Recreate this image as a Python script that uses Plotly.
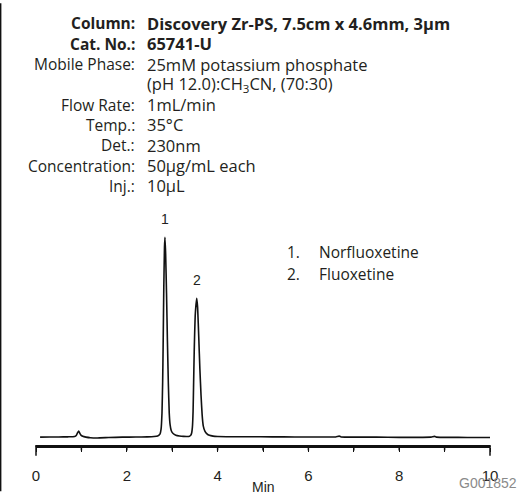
import plotly.graph_objects as go

# ---- data ----
time_min = [0.09, 0.3, 0.5, 0.7, 0.85, 0.89, 0.92, 0.94, 0.96, 0.99, 1.03, 1.1, 1.2, 1.35, 1.6,
            1.9, 2.2, 2.45, 2.6, 2.68, 2.73, 2.755, 2.775, 2.79, 2.80, 2.815, 2.83, 2.84, 2.855,
            2.875, 2.895, 2.915, 2.935, 2.955, 2.98, 3.02, 3.08, 3.16, 3.25, 3.33, 3.38, 3.41,
            3.43, 3.445, 3.46, 3.47, 3.485, 3.51, 3.54, 3.56, 3.585, 3.61, 3.635, 3.66, 3.685,
            3.72, 3.76, 3.82, 3.9, 4.0, 4.3, 4.7, 5.2, 5.7, 6.2, 6.6, 6.68, 6.72, 6.8, 7.1, 7.5,
            8.0, 8.4, 8.7, 8.78, 8.82, 8.9, 9.3, 9.7, 10.0]
signal = [0, 0.1, 0.1, 0.15, 0.3, 1.0, 2.4, 3.0, 2.2, 1.0, 0.4, 0, -0.3, -0.4, -0.2,
          0, 0.05, 0.15, 0.3, 0.6, 1.5, 4, 12, 28, 45, 75, 95, 100, 92,
          72, 48, 27, 12, 6, 3.2, 1.8, 1.0, 0.6, 0.4, 0.35, 0.5, 1.0,
          2.2, 5, 13, 25, 43, 62, 69.5, 65, 50, 34, 21, 11, 5.5,
          3, 1.8, 0.9, 0.5, 0.3, 0.2, 0.2, 0.15, 0.1, 0.1, 0.1, 0.5, 0.1, 0, 0, 0,
          -0.1, -0.1, 0, 0.4, 0, -0.1, -0.1, -0.2, -0.2]

tick_values = [0, 1, 2, 3, 4, 5, 6, 7, 8, 9, 10]
tick_labels = ["0", " ", "2", " ", "4", " ", "6", " ", "8", " ", "10"]
x_title = "Min"

peak_times = [2.84, 3.54]
peak_heights = [100, 69.5]
peak_numbers = ["1", "2"]
compound_numbers = ["1.", "2."]
compound_names = ["Norfluoxetine", "Fluoxetine"]

cond_labels = ["Column:", "Cat. No.:", "Mobile Phase:", "", "Flow Rate:", "Temp.:",
               "Det.:", "Concentration:", "Inj.:"]
cond_values = ["Discovery Zr-PS, 7.5cm x 4.6mm, 3µm", "65741-U", "25mM potassium phosphate",
               "(pH 12.0):CH<sub>3</sub>CN, (70:30)", "1mL/min", "35°C", "230nm",
               "50µg/mL each", "10µL"]
bold_rows = [0, 1]

# ---- layout geometry (pixels) ----
W, H = 520, 496
L, R, T, B = 36, 30, 200, 46
PW, PH = W - L - R, H - T - B
X_MIN, X_MAX = 0, 10


def px(x):
    return (x - L) / PW


def py(y):
    return (H - B - y) / PH


def xfrac(v):
    return (v - X_MIN) / (X_MAX - X_MIN)


HDR_FONT = "Open Sans"
TXT = "#231f20"
INK = "#111111"
fs_lab = 15.5
fs_val = 16.5
fs_leg = 15.5

fig = go.Figure()
fig.add_trace(go.Scatter(x=time_min, y=signal, mode="lines",
                         line=dict(color=INK, width=1.6, shape="spline", smoothing=0.4),
                         hoverinfo="skip", showlegend=False))

annotations = []
for i, (lab, val) in enumerate(zip(cond_labels, cond_values)):
    yc = 20.5 + 20.65 * i
    b = i in bold_rows
    if lab:
        annotations.append(dict(xref="paper", yref="paper", x=px(137), y=py(yc),
                                xanchor="right", yanchor="middle", showarrow=False,
                                text=f"<b>{lab}</b>" if b else lab,
                                font=dict(family=HDR_FONT, size=fs_lab, color=TXT)))
    annotations.append(dict(xref="paper", yref="paper", x=px(145), y=py(yc),
                            xanchor="left", yanchor="middle", showarrow=False,
                            text=f"<b>{val}</b>" if b else val,
                            font=dict(family=HDR_FONT, size=fs_val, color=TXT)))

for t, h, n in zip(peak_times, peak_heights, peak_numbers):
    annotations.append(dict(x=t, y=h, xref="x", yref="y", text=n, showarrow=False,
                            yanchor="middle", yshift=18,
                            font=dict(family="Liberation Sans", size=14, color=TXT)))

for i, (num, name) in enumerate(zip(compound_numbers, compound_names)):
    yc = 253 + 22 * i
    annotations.append(dict(xref="paper", yref="paper", x=px(285), y=py(yc), xanchor="left",
                            yanchor="middle", showarrow=False, text=num,
                            font=dict(family=HDR_FONT, size=fs_leg, color=TXT)))
    annotations.append(dict(xref="paper", yref="paper", x=px(316.5), y=py(yc), xanchor="left",
                            yanchor="middle", showarrow=False, text=name,
                            font=dict(family=HDR_FONT, size=fs_leg, color=TXT)))

# x-axis title
annotations.append(dict(xref="paper", yref="paper", x=0.5, y=py(492), xanchor="center",
                        yanchor="middle", showarrow=False, text=x_title,
                        font=dict(family="Liberation Sans", size=14, color=TXT)))

annotations.append(dict(xref="paper", yref="paper", x=px(519), y=py(487.5), xanchor="right",
                        yanchor="middle", showarrow=False, text="G001852",
                        font=dict(family="Liberation Sans", size=14, color="#8a8a8a")))

shapes = [
    # left frame line
    dict(type="line", xref="paper", yref="paper", x0=px(0.7), x1=px(0.7), y0=py(H), y1=py(0),
         line=dict(color=INK, width=1.4), layer="above"),
    # axis baseline
    dict(type="line", xref="paper", yref="paper", x0=xfrac(tick_values[0]) - 0.0015,
         x1=xfrac(tick_values[-1]) + 0.0015, y0=py(449.8), y1=py(449.8),
         line=dict(color=INK, width=1.8), layer="above"),
]
# tick marks (end ticks longer)
for i, tv in enumerate(tick_values):
    end = i in (0, len(tick_values) - 1)
    shapes.append(dict(type="line", xref="paper", yref="paper", x0=xfrac(tv), x1=xfrac(tv),
                       y0=py(449.8), y1=py(460 if end else 454.5),
                       line=dict(color=INK, width=1.5), layer="above"))

ppu = 203 / 100.0  # pixels per signal unit
fig.update_layout(
    width=W, height=H, autosize=False,
    margin=dict(l=L, r=R, t=T, b=B, pad=0),
    paper_bgcolor="white", plot_bgcolor="white",
    annotations=annotations, shapes=shapes,
    modebar=dict(bgcolor="rgba(0,0,0,0)", color="rgba(0,0,0,0)",
                 activecolor="rgba(0,0,0,0)"),
    xaxis=dict(range=[X_MIN, X_MAX], showgrid=False, zeroline=False, showline=True,
               linecolor=INK, linewidth=1.6, ticks="outside", ticklen=4, tickwidth=1.4,
               tickcolor=INK, tickvals=tick_values, ticktext=tick_labels,
               ticklabelstandoff=11,
               tickfont=dict(family="Liberation Sans", size=15, color=TXT)),
    yaxis=dict(range=[-9 / ppu, (441 - T) / ppu], showgrid=False, showline=False,
               showticklabels=False, ticks="", zeroline=False),
)

post = (
    "document.body.style.margin='0';document.body.style.padding='0';"
    "var st=document.createElement('style');"
    "st.innerHTML='.modebar-container{display:none !important;}';"
    "document.head.appendChild(st);"
)
fig.write_html("out.html", post_script=post)
